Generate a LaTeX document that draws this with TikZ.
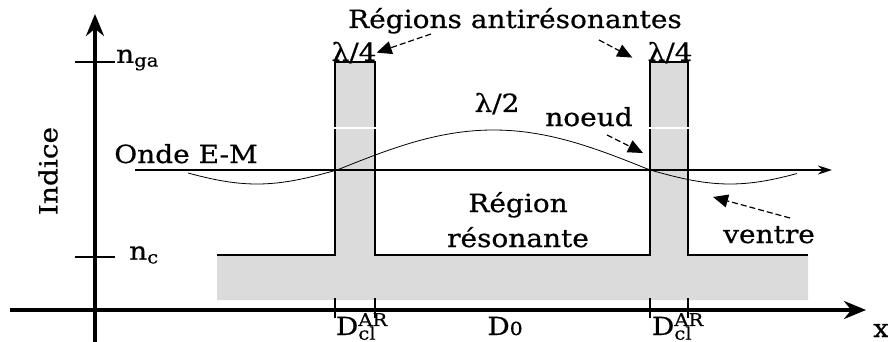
\documentclass[tikz,border=0pt]{standalone}
\usepackage{fontspec}
\setmainfont[FakeStretch=1.12, FakeBold=0.6]{DejaVu Serif}
\usetikzlibrary{arrows.meta}
\newcommand{\Dcl}{D\rlap{\textsuperscript{AR}}\textsubscript{cl}}
\tikzset{
  lbl/.style={font=\fontsize{25}{27}\selectfont, inner sep=0pt},
  pointer/.style={dash pattern=on 6pt off 3pt, line width=1.2pt,
    -{Triangle[length=15pt,width=13pt]}},
  axis/.style={line width=3.5pt, -{Stealth[length=22pt,width=18pt]}},
}
\begin{document}
\begin{tikzpicture}[x=1pt,y=-1pt]
\useasboundingbox (0,0) rectangle (888,342);
% cladding and antiresonant layers
\fill[black!14] (217,255) -- (335,255) -- (335,62) -- (375,62) -- (375,255)
  -- (650,255) -- (650,62) -- (688,62) -- (688,255) -- (808,255)
  -- (808,300) -- (217,300) -- cycle;
\draw[line width=1.3pt] (217,255) -- (335,255) -- (335,62) -- (375,62) -- (375,255)
  -- (650,255) -- (650,62) -- (688,62) -- (688,255) -- (808,255);
\draw[white, line width=1pt] (334,128) -- (376,128) (649,128) -- (689,128);
% axes
\draw[axis] (95,342) -- (95,14);
\draw[axis] (10,310) -- (866,310);
\draw[line width=1.4pt] (75,62) -- (115,62) (75,257) -- (115,257);
\foreach \xx in {335,375,650,688}
  \draw[line width=1.1pt] (\xx,298) -- (\xx,318);
% wave
\draw[line width=2pt, -{Stealth[length=14pt,width=9pt]}] (135,170) -- (832,170);
\draw[line width=0.8pt] plot[domain=188:797, samples=90, smooth]
  (\x, {\x<337 ? 170+14*sin((337-\x)*1.125)
       : (\x<650 ? 170-40*sin((\x-337)*0.575) : 170+14*sin((\x-650)*1.125))});
% labels
\node[lbl, rotate=90] (indice) at (48,171) {Indice};
\node[lbl, anchor=west] (nga) at (116,60) {n\textsubscript{ga}};
\node[lbl, anchor=west] (nc) at (129,255) {n\textsubscript{c}};
\node[lbl, anchor=base] (onde) at (186,163) {Onde E-M};
\node[lbl, anchor=base] (anti) at (515,28) {Régions antirésonantes};
\node[lbl, anchor=base] (qa) at (354,61) {λ/4};
\node[lbl, anchor=base] (qb) at (670,61) {λ/4};
\node[lbl, anchor=base] (half) at (497,112) {λ/2};
\node[lbl, anchor=base] (noeud) at (589,126) {noeud};
\node[lbl, anchor=base] (reg) at (518,212) {Région};
\node[lbl, anchor=base] (res) at (518,247) {résonante};
\node[lbl, anchor=base] (ventre) at (769,243) {ventre};
\node[lbl, anchor=base] (da) at (356,335) {\Dcl};
\node[lbl, anchor=base] (d0) at (505,335) {D{\fontsize{18}{18}\selectfont 0}};
\node[lbl, anchor=base] (db) at (672,335) {\Dcl};
\node[lbl, anchor=base west] (xlab) at (873,337) {x};
% pointers
\coordinate (pa) at (431,34);
\coordinate (pb) at (599,40);
\coordinate (pn) at (607,135);
\coordinate (pnode) at (643,153);
\coordinate (pv) at (790,218);
\coordinate (pbelly) at (713,197);
\draw[pointer] (pa) -- (qa.east);
\draw[pointer] (pb) -- ([xshift=-15pt,yshift=-5pt]qb.west);
\draw[pointer] (pn) -- (pnode);
\draw[pointer] (pv) -- (pbelly);
\end{tikzpicture}
\end{document}
